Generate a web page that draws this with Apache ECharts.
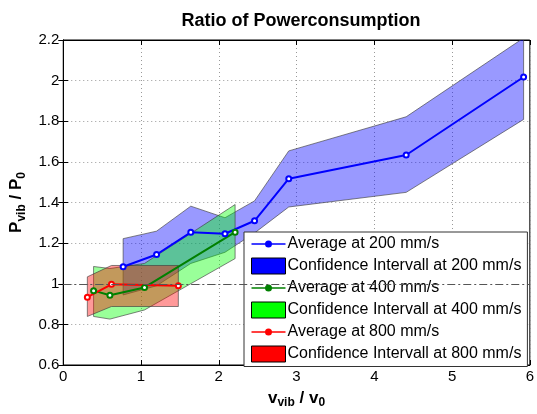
<!DOCTYPE html>
<html>
<head>
<meta charset="utf-8">
<script src="https://cdn.jsdelivr.net/npm/echarts@6/dist/echarts.min.js"></script>
<style>
  html, body { margin: 0; padding: 0; background: #fff; }
  #chart { width: 537px; height: 414px; }
</style>
</head>
<body>
<div id="chart"></div>
<script>
// 200 mm/s
var blueX = [0.77, 1.20, 1.64, 2.08, 2.46, 2.90, 4.41, 5.92];
var blueAvg = [1.084, 1.144, 1.253, 1.246, 1.31, 1.517, 1.634, 2.018];
var blueUpper = [1.222, 1.259, 1.382, 1.325, 1.408, 1.654, 1.822, 2.21];
var blueLower = [0.945, 0.99, 1.10, 1.155, 1.25, 1.378, 1.45, 1.809];
// 400 mm/s
var greenX = [0.39, 0.60, 1.045, 2.21];
var greenAvg = [0.966, 0.943, 0.982, 1.254];
var greenUpper = [1.085, 1.075, 1.10, 1.39];
var greenLower = [0.839, 0.826, 0.871, 1.124];
// 800 mm/s
var redX = [0.31, 0.62, 1.48];
var redAvg = [0.934, 0.997, 0.99];
var redUpper = [1.034, 1.09, 1.09];
var redLower = [0.839, 0.888, 0.888];

var names = ['Average at 200 mm/s', 'Confidence Intervall at 200 mm/s',
             'Average at 400 mm/s', 'Confidence Intervall at 400 mm/s',
             'Average at 800 mm/s', 'Confidence Intervall at 800 mm/s'];

var FONT = '"Liberation Sans", Arial, sans-serif';
// line with a small dot, for the legend
var LINE_ICON = 'path://M0,7.2H34V8.8H0Z M20.5,8A3.5,3.5 0 1 1 13.5,8A3.5,3.5 0 1 1 20.5,8Z';

function pairs(xs, ys) {
    return xs.map(function (x, i) { return [x, ys[i]]; });
}

function band(name, xs, up, lo, fill) {
    return {
        name: name,
        type: 'custom',
        clip: true,
        z: 1,
        data: xs.map(function (x, i) { return [x, up[i], lo[i]]; }),
        renderItem: function (params, api) {
            if (params.dataIndex !== 0) return;
            var pts = [];
            for (var i = 0; i < xs.length; i++) pts.push(api.coord([xs[i], up[i]]));
            for (var j = xs.length - 1; j >= 0; j--) pts.push(api.coord([xs[j], lo[j]]));
            return {
                type: 'polygon',
                shape: { points: pts },
                style: { fill: fill, stroke: 'rgba(60,60,60,0.8)', lineWidth: 0.8 }
            };
        }
    };
}

function avg(name, xs, ys, color, extra) {
    var s = {
        name: name,
        type: 'line',
        z: 3,
        data: pairs(xs, ys),
        symbol: 'emptyCircle',
        symbolSize: 5,
        color: color,
        lineStyle: { width: 2, color: color },
        itemStyle: { color: color, borderWidth: 1.5 }
    };
    if (extra) Object.assign(s, extra);
    return s;
}

function rectItem(name, color) {
    return { name: name, icon: 'rect', itemStyle: { color: color, borderColor: '#000', borderWidth: 1 } };
}

function lineItem(name, color) {
    return { name: name, icon: LINE_ICON, itemStyle: { color: color, borderWidth: 0 } };
}

var chart = echarts.init(document.getElementById('chart'));

var axisText = { color: '#000', fontSize: 15, fontFamily: FONT };
var nameRich = {
    b: { fontSize: 17, fontWeight: 'bold', color: '#000', fontFamily: FONT },
    s: { fontSize: 12, fontWeight: 'bold', color: '#000', fontFamily: FONT, padding: [10, 0, 0, 0] }
};

chart.setOption({
    animation: false,
    textStyle: { fontFamily: FONT },
    title: {
        text: 'Ratio of Powerconsumption',
        left: 296,
        top: 7,
        textAlign: 'center',
        textStyle: { fontSize: 18, fontWeight: 'bold', color: '#000', fontFamily: FONT }
    },
    grid: {
        left: 63, right: 5, top: 40, bottom: 47,
        show: true, borderColor: '#000', borderWidth: 1
    },
    legend: {
        orient: 'vertical',
        left: 244,
        top: 232,
        padding: [4, 6, 4, 7],
        itemGap: 5.5,
        itemWidth: 34,
        itemHeight: 16,
        backgroundColor: '#fff',
        borderColor: '#333',
        borderWidth: 1,
        textStyle: { fontSize: 16, color: '#000', fontFamily: FONT, padding: [0, 0, 0, -3] },
        data: [
            lineItem(names[0], '#0000ff'),
            rectItem(names[1], '#0000ff'),
            lineItem(names[2], '#008000'),
            rectItem(names[3], '#00ff00'),
            lineItem(names[4], '#ff0000'),
            rectItem(names[5], '#ff0000')
        ]
    },
    xAxis: [{
        type: 'value',
        min: 0, max: 6, interval: 1,
        position: 'bottom',
        name: '{b|v}{s|vib}{b| / v}{s|0}',
        nameLocation: 'middle',
        nameGap: 22,
        nameTextStyle: { rich: nameRich },
        axisLine: { show: true, lineStyle: { color: '#000', width: 1 } },
        axisTick: { show: true, inside: true, length: 5, lineStyle: { color: '#000' } },
        axisLabel: Object.assign({ margin: 4 }, axisText),
        splitLine: { show: true, lineStyle: { color: '#999', type: [1, 3], width: 1 } }
    }, {
        type: 'value',
        min: 0, max: 6, interval: 1,
        position: 'top',
        axisLine: { show: true, lineStyle: { color: '#000' } },
        axisTick: { show: true, inside: true, length: 5, lineStyle: { color: '#000' } },
        axisLabel: { show: false },
        splitLine: { show: false }
    }],
    yAxis: [{
        type: 'value',
        min: 0.6, max: 2.2, interval: 0.2,
        position: 'left',
        name: '{b|P}{s|vib}{b| / P}{s|0}',
        nameLocation: 'middle',
        nameGap: 24,
        nameRotate: 90,
        nameTextStyle: { rich: nameRich },
        axisLine: { show: true, lineStyle: { color: '#000', width: 1 } },
        axisTick: { show: true, inside: true, length: 5, lineStyle: { color: '#000' } },
        axisLabel: Object.assign({ margin: 4 }, axisText),
        splitLine: { show: true, lineStyle: { color: '#999', type: [1, 3], width: 1 } }
    }, {
        type: 'value',
        min: 0.6, max: 2.2, interval: 0.2,
        position: 'right',
        axisLine: { show: true, lineStyle: { color: '#000' } },
        axisTick: { show: true, inside: true, length: 5, lineStyle: { color: '#000' } },
        axisLabel: { show: false },
        splitLine: { show: false }
    }],
    series: [
        band(names[1], blueX, blueUpper, blueLower, 'rgba(0,0,255,0.4)'),
        band(names[3], greenX, greenUpper, greenLower, 'rgba(0,255,0,0.4)'),
        band(names[5], redX, redUpper, redLower, 'rgba(255,0,0,0.4)'),
        avg(names[0], blueX, blueAvg, '#0000ff', {
            markLine: {
                silent: true,
                symbol: 'none',
                label: { show: false },
                lineStyle: { color: '#555', type: [8, 3, 2, 3], width: 1 },
                data: [{ yAxis: 1 }]
            }
        }),
        avg(names[2], greenX, greenAvg, '#008000'),
        avg(names[4], redX, redAvg, '#ff0000')
    ]
});
</script>
</body>
</html>
